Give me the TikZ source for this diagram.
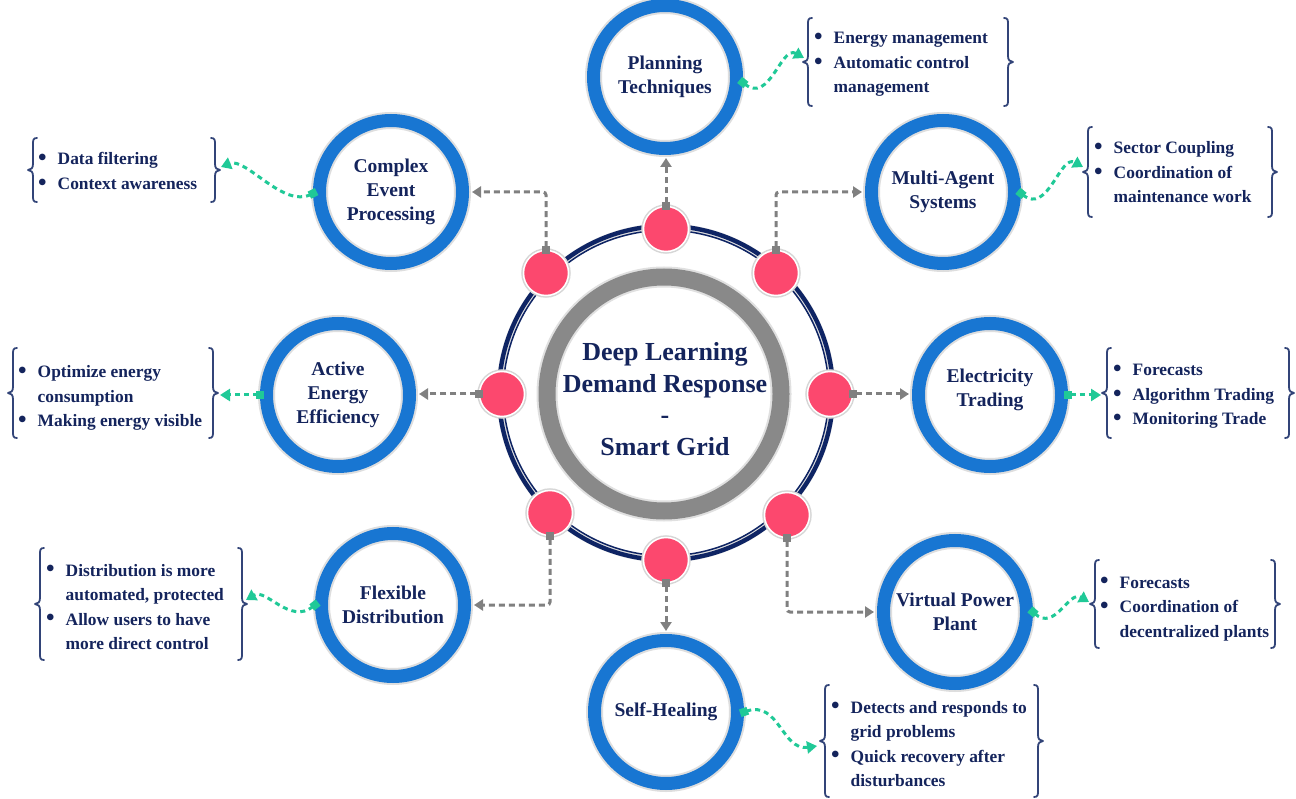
\documentclass[tikz,border=0pt]{standalone}
\usepackage{fontspec}
\setmainfont{Liberation Serif}
\usetikzlibrary{arrows.meta}
\definecolor{bluering}{RGB}{24,118,210}
\definecolor{pinkc}{RGB}{252,72,110}
\definecolor{navyring}{RGB}{14,36,100}
\definecolor{grayring}{RGB}{137,137,137}
\definecolor{textnavy}{RGB}{20,36,92}
\definecolor{greenc}{RGB}{32,201,151}
\definecolor{connc}{RGB}{128,128,128}
\definecolor{bracec}{RGB}{50,68,120}
\newcommand\leftbrc[3]{%
  \draw[bracestyle] ({#1+9},#2) .. controls ({#1+5},#2) and ({#1+5},{#2+2}) .. ({#1+5},{#2+7})
   -- ({#1+5},{(#2+#3)/2-6}) .. controls ({#1+5},{(#2+#3)/2-2}) and ({#1+3},{(#2+#3)/2}) .. ({#1},{(#2+#3)/2})
   .. controls ({#1+3},{(#2+#3)/2}) and ({#1+5},{(#2+#3)/2+2}) .. ({#1+5},{(#2+#3)/2+6})
   -- ({#1+5},{#3-7}) .. controls ({#1+5},{#3-2}) and ({#1+5},#3) .. ({#1+9},#3);}
\newcommand\rightbrc[3]{%
  \draw[bracestyle] ({#1-9},#2) .. controls ({#1-5},#2) and ({#1-5},{#2+2}) .. ({#1-5},{#2+7})
   -- ({#1-5},{(#2+#3)/2-6}) .. controls ({#1-5},{(#2+#3)/2-2}) and ({#1-3},{(#2+#3)/2}) .. ({#1},{(#2+#3)/2})
   .. controls ({#1-3},{(#2+#3)/2}) and ({#1-5},{(#2+#3)/2+2}) .. ({#1-5},{(#2+#3)/2+6})
   -- ({#1-5},{#3-7}) .. controls ({#1-5},{#3-2}) and ({#1-5},#3) .. ({#1-9},#3);}
\newcommand\blt{\raisebox{-0.6pt}{\scalebox{1.4}{\textbullet}}}
\newcommand\lcols{@{}l@{\hspace{11pt}}l@{}}
\begin{document}
\begin{tikzpicture}[x=1pt,y=-1pt,
  bluecirc/.style={circle, draw=bluering, line width=13pt, minimum size=143pt, inner sep=0pt,
    align=center, text=textnavy, font=\fontsize{19.5}{24}\selectfont\bfseries,
    preaction={draw=black!13, line width=17pt}},
  circtext/.style={align=center, text=textnavy, font=\fontsize{19.5}{24}\selectfont\bfseries, inner sep=0pt},
  pinkdot/.style={circle, fill=pinkc, draw=white, line width=1.5pt, minimum size=45pt, inner sep=0pt,
    preaction={draw=black!16, line width=4.5pt}},
  grayconn/.style={draw=connc, line width=3pt, dash pattern=on 6pt off 4pt, rounded corners=3pt,
    {Square[length=8pt,width=8pt]}-{Triangle[length=9pt,width=11pt]}, shorten <=-4pt, shorten >=3pt},
  greenconn/.style={draw=greenc, line width=3pt, dash pattern=on 5pt off 4pt,
    {Square[length=8pt,width=8pt]}-{Triangle[length=10pt,width=12pt]}, shorten <=-4pt},
  listtext/.style={anchor=base west, inner sep=0pt, text=textnavy,
    font=\fontsize{17.4}{24.5}\selectfont\bfseries},
  bracestyle/.style={draw=bracec, line width=1.8pt, line cap=round, line join=round},
]
\useasboundingbox (0,0) rectangle (1296,799);
\fill[white] (0,0) rectangle (1296,799);

% hub
\node[circle, draw=grayring, line width=17pt, minimum size=234pt, inner sep=0pt,
  preaction={draw=black!12, line width=21pt}] (hub) at (664,394) {};
\draw[black!12, line width=7pt] (666,393) circle[radius=166pt];
\draw[navyring, line width=4.4pt] (666,393) circle[radius=167pt];
\draw[navyring, line width=1.5pt] (666,393) circle[radius=162.8pt];
\node[align=center, text=textnavy, font=\fontsize{26}{31.7}\selectfont\bfseries, inner sep=0pt]
  (ctext) at (665,399) {Deep Learning\\Demand Response\\-\\Smart Grid};

% satellites
\node[bluecirc] (plan) at (665,77) {Planning\\Techniques};
\node[bluecirc] (cep) at (391,192) {Complex\\Event\\Processing};
\node[bluecirc] (mas) at (943,192) {Multi-Agent\\Systems};
\node[bluecirc] (aee) at (338,395) {Active\\Energy\\Efficiency};
\node[bluecirc] (elt) at (990,395) {};
\node[circtext] (eltxt) at (990,390) {Electricity\\Trading};
\node[bluecirc] (fld) at (393,605) {Flexible\\Distribution};
\node[bluecirc] (vpp) at (955,612) {Virtual Power\\Plant};
\node[bluecirc] (shl) at (666,712) {Self-Healing};

% pink dots
\node[pinkdot] (p1) at (666,229) {};
\node[pinkdot] (p2) at (546,273) {};
\node[pinkdot] (p3) at (502,394) {};
\node[pinkdot] (p4) at (550,513) {};
\node[pinkdot] (p5) at (666,560) {};
\node[pinkdot] (p6) at (787,515) {};
\node[pinkdot] (p7) at (830,394) {};
\node[pinkdot] (p8) at (776,273) {};

% gray connectors
\draw[grayconn] (p1.north) -- (p1.north |- plan.south);
\draw[grayconn] (p2.north) |- (cep.east);
\draw[grayconn] (p8.north) |- (mas.west);
\draw[grayconn] (p3.west) -- (p3.west -| aee.east);
\draw[grayconn] (p7.east) -- (p7.east -| elt.west);
\draw[grayconn] (p4.south) |- (fld.east);
\draw[grayconn] (p5.south) -- (p5.south |- shl.north);
\draw[grayconn] (p6.south) |- (vpp.west);

% braces
\leftbrc{803}{18}{106}\rightbrc{1013}{18}{106}
\leftbrc{28}{138}{202}\rightbrc{220}{138}{202}
\leftbrc{1083}{127}{217}\rightbrc{1277}{127}{217}
\leftbrc{8}{348}{438}\rightbrc{218}{348}{438}
\leftbrc{1102}{348}{438}\rightbrc{1294}{348}{438}
\leftbrc{35}{548}{660}\rightbrc{247}{548}{660}
\leftbrc{1090}{560}{648}\rightbrc{1280}{560}{648}
\leftbrc{820}{685}{797}\rightbrc{1043}{685}{797}

% lists
\node[listtext] (l1) at (814,44) {\begin{tabular}[t]{\lcols}\blt & Energy management\\ \blt & Automatic control\\ & management\end{tabular}};
\node[listtext] (l2) at (38,165) {\begin{tabular}[t]{\lcols}\blt & Data filtering\\ \blt & Context awareness\end{tabular}};
\node[listtext] (l3) at (1094,154) {\begin{tabular}[t]{\lcols}\blt & Sector Coupling\\ \blt & Coordination of\\ & maintenance work\end{tabular}};
\node[listtext] (l4) at (18,378) {\begin{tabular}[t]{\lcols}\blt & Optimize energy\\ & consumption\\ \blt & Making energy visible\end{tabular}};
\node[listtext] (l5) at (1113,376) {\begin{tabular}[t]{\lcols}\blt & Forecasts\\ \blt & Algorithm Trading\\ \blt & Monitoring Trade\end{tabular}};
\node[listtext] (l6) at (46,576) {\begin{tabular}[t]{\lcols}\blt & Distribution is more\\ & automated, protected\\ \blt & Allow users to have\\ & more direct control\end{tabular}};
\node[listtext] (l7) at (1100,588) {\begin{tabular}[t]{\lcols}\blt & Forecasts\\ \blt & Coordination of\\ & decentralized plants\end{tabular}};
\node[listtext] (l8) at (831,713) {\begin{tabular}[t]{\lcols}\blt & Detects and responds to\\ & grid problems\\ \blt & Quick recovery after\\ & disturbances\end{tabular}};

% green connector targets
\coordinate (g1) at (804,58);
\coordinate (g2) at (221,167);
\coordinate (g3) at (1083,167);
\coordinate (g4) at (220,395);
\coordinate (g5) at (1101,395);
\coordinate (g6) at (246,600);
\coordinate (g7) at (1089,602);
\coordinate (g8) at (817,746);

\draw[greenconn] (plan.-4) .. controls +(27,22) and +(-23,-13) .. (g1);
\draw[greenconn] (cep.181) .. controls +(-30,15) and +(25,-10) .. (g2);
\draw[greenconn] (mas.-1) .. controls +(27,22) and +(-23,-13) .. (g3);
\draw[greenconn] (aee.west) -- (g4);
\draw[greenconn] (elt.east) -- (g5);
\draw[greenconn] (fld.west) .. controls +(-25,20) and +(20,-12) .. (g6);
\draw[greenconn] (vpp.east) .. controls +(22,20) and +(-20,-12) .. (g7);
\draw[greenconn] (shl.east) .. controls +(35,-12) and +(-35,5) .. (g8);
\end{tikzpicture}
\end{document}
